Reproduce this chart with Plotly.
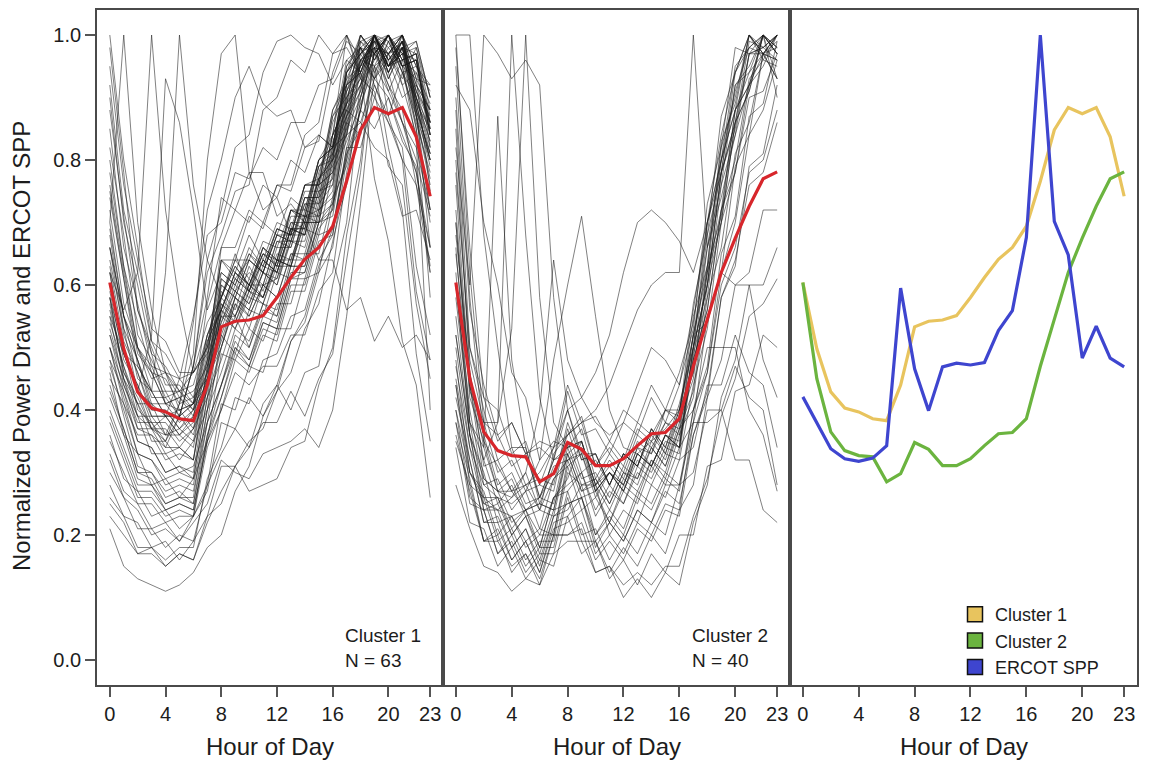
import plotly.graph_objects as go

hours = list(range(24))
x_tick_vals = [0, 4, 8, 12, 16, 20, 23]
y_tick_vals = [0.0, 0.2, 0.4, 0.6, 0.8, 1.0]
y_tick_text = ["0.0", "0.2", "0.4", "0.6", "0.8", "1.0"]

cluster1_mean = [0.604, 0.498, 0.429, 0.403, 0.397, 0.386, 0.383, 0.44, 0.533, 0.542, 0.544, 0.551,
                 0.580, 0.612, 0.641, 0.660, 0.694, 0.766, 0.848, 0.884, 0.874, 0.884, 0.837, 0.742]
cluster2_mean = [0.604, 0.45, 0.365, 0.335, 0.327, 0.325, 0.285, 0.298, 0.348, 0.337, 0.311, 0.311,
                 0.322, 0.343, 0.362, 0.364, 0.386, 0.47, 0.545, 0.62, 0.675, 0.726, 0.77, 0.781]
ercot_spp = [0.421, 0.38, 0.338, 0.322, 0.318, 0.323, 0.343, 0.595, 0.466, 0.399, 0.469, 0.475,
             0.472, 0.476, 0.527, 0.559, 0.676, 1.0, 0.702, 0.648, 0.483, 0.534, 0.483, 0.469]

cluster1_profiles = [
    [0.62,0.49,0.43,0.37,0.36,0.36,0.34,0.47,0.55,0.53,0.59,0.58,0.64,0.63,0.71,0.72,0.81,0.86,0.97,1.00,0.95,0.99,0.91,0.84],
    [0.75,0.61,0.47,0.43,0.39,0.39,0.36,0.45,0.50,0.57,0.53,0.60,0.61,0.67,0.66,0.74,0.77,0.91,0.98,0.93,0.99,0.94,0.86,0.78],
    [0.55,0.44,0.39,0.33,0.33,0.30,0.31,0.38,0.52,0.49,0.56,0.55,0.62,0.61,0.69,0.68,0.78,0.83,0.89,0.95,0.91,0.96,0.97,0.85],
    [0.90,0.70,0.60,0.49,0.47,0.43,0.44,0.52,0.58,0.65,0.59,0.66,0.63,0.72,0.70,0.79,0.80,0.94,1.00,0.96,1.00,0.92,0.84,0.70],
    [0.48,0.39,0.31,0.30,0.26,0.27,0.25,0.38,0.44,0.50,0.47,0.54,0.53,0.61,0.62,0.70,0.72,0.86,0.84,0.92,0.87,0.94,0.90,0.81],
    [0.68,0.53,0.48,0.40,0.40,0.37,0.39,0.45,0.59,0.56,0.63,0.59,0.66,0.66,0.74,0.73,0.82,0.84,0.94,0.90,0.97,0.93,0.98,0.90],
    [0.82,0.68,0.52,0.48,0.43,0.43,0.40,0.50,0.56,0.62,0.60,0.66,0.64,0.71,0.71,0.80,0.82,0.95,0.99,1.00,0.94,1.00,0.91,0.86],
    [0.58,0.46,0.41,0.35,0.35,0.32,0.35,0.40,0.56,0.53,0.58,0.57,0.63,0.63,0.72,0.71,0.79,0.84,0.99,0.96,1.00,0.97,0.98,0.88],
    [0.44,0.37,0.30,0.29,0.25,0.26,0.25,0.36,0.42,0.49,0.47,0.53,0.52,0.60,0.60,0.68,0.69,0.82,0.82,0.90,0.86,0.80,0.76,0.66],
    [0.95,0.76,0.64,0.53,0.51,0.46,0.46,0.50,0.64,0.62,0.68,0.64,0.70,0.69,0.76,0.76,0.87,0.92,1.00,0.97,1.00,0.95,0.93,0.75],
    [0.52,0.43,0.35,0.34,0.30,0.31,0.29,0.42,0.48,0.55,0.50,0.57,0.56,0.64,0.64,0.71,0.73,0.85,0.90,0.99,0.97,1.00,0.95,0.91],
    [0.70,0.55,0.48,0.42,0.42,0.39,0.41,0.44,0.55,0.55,0.61,0.58,0.64,0.64,0.71,0.70,0.81,0.87,0.96,0.99,0.93,0.98,0.87,0.72],
    [0.60,0.50,0.40,0.38,0.34,0.34,0.32,0.45,0.51,0.58,0.55,0.60,0.58,0.65,0.65,0.73,0.76,0.89,0.93,1.00,0.98,0.95,0.96,0.84],
    [0.85,0.66,0.57,0.47,0.46,0.42,0.43,0.47,0.61,0.59,0.65,0.63,0.69,0.68,0.76,0.77,0.88,0.93,0.98,0.94,0.99,1.00,0.89,0.80],
    [0.50,0.41,0.33,0.32,0.28,0.29,0.28,0.40,0.46,0.53,0.51,0.57,0.55,0.63,0.63,0.70,0.71,0.84,0.86,0.93,0.97,0.92,0.94,0.89],
    [0.66,0.52,0.46,0.39,0.39,0.36,0.38,0.43,0.58,0.55,0.60,0.60,0.67,0.67,0.73,0.72,0.83,0.88,0.95,1.00,0.96,0.99,0.88,0.81],
    [0.78,0.63,0.50,0.46,0.41,0.42,0.39,0.49,0.55,0.61,0.59,0.64,0.62,0.69,0.68,0.77,0.81,0.94,0.97,0.99,1.00,0.96,0.97,0.86],
    [0.46,0.36,0.33,0.28,0.29,0.26,0.29,0.35,0.49,0.48,0.53,0.51,0.57,0.57,0.65,0.65,0.74,0.79,0.88,0.85,0.90,0.83,0.79,0.62],
    [0.64,0.53,0.43,0.41,0.36,0.37,0.35,0.46,0.53,0.59,0.57,0.62,0.61,0.69,0.68,0.75,0.76,0.89,0.92,1.00,0.95,0.98,0.97,0.87],
    [0.88,0.71,0.56,0.50,0.44,0.44,0.41,0.52,0.58,0.63,0.60,0.66,0.64,0.72,0.71,0.79,0.81,0.93,0.95,1.00,0.99,0.94,0.87,0.77],
    [0.56,0.47,0.39,0.37,0.33,0.34,0.32,0.47,0.58,0.64,0.64,0.70,0.68,0.74,0.72,0.80,0.82,0.94,0.98,0.92,0.86,0.82,0.63,0.52],
    [0.72,0.57,0.50,0.43,0.43,0.39,0.41,0.48,0.66,0.66,0.72,0.70,0.76,0.75,0.82,0.83,0.94,1.00,0.93,0.91,0.79,0.76,0.57,0.45],
    [0.40,0.34,0.28,0.28,0.25,0.26,0.26,0.40,0.50,0.58,0.56,0.62,0.60,0.68,0.68,0.78,0.84,1.00,0.96,0.95,0.82,0.72,0.49,0.35],
    [0.62,0.49,0.44,0.39,0.39,0.36,0.39,0.48,0.64,0.64,0.71,0.69,0.76,0.76,0.84,0.86,0.97,0.98,0.94,0.77,0.67,0.51,0.44,0.26],
    [0.50,0.42,0.35,0.34,0.30,0.31,0.30,0.44,0.54,0.60,0.58,0.64,0.62,0.69,0.69,0.77,0.80,0.92,0.94,1.00,0.87,0.80,0.59,0.48],
    [0.58,0.45,0.41,0.37,0.39,0.39,0.47,0.58,0.74,0.72,0.78,0.72,0.74,0.68,0.70,0.64,0.64,0.56,0.58,0.51,0.55,0.50,0.52,0.48],
    [0.66,0.55,0.45,0.43,0.39,0.40,0.41,0.57,0.66,0.72,0.70,0.76,0.74,0.80,0.78,0.84,0.82,0.88,0.86,0.82,0.80,0.71,0.72,0.64],
    [0.21,0.15,0.13,0.12,0.11,0.12,0.14,0.18,0.20,0.27,0.31,0.39,0.43,0.51,0.55,0.63,0.69,0.81,0.88,0.97,0.95,0.98,0.85,0.72],
    [0.23,0.20,0.17,0.17,0.15,0.17,0.16,0.23,0.25,0.31,0.34,0.41,0.44,0.51,0.54,0.62,0.66,0.80,0.88,1.00,0.96,0.99,0.89,0.80],
    [0.28,0.23,0.22,0.18,0.19,0.16,0.19,0.23,0.31,0.31,0.35,0.37,0.43,0.46,0.53,0.57,0.67,0.76,0.92,0.96,1.00,0.97,0.96,0.84],
    [0.26,0.23,0.18,0.18,0.15,0.17,0.16,0.22,0.27,0.31,0.27,0.28,0.29,0.34,0.35,0.44,0.50,0.68,0.80,0.98,0.97,1.00,0.87,0.76],
    [0.33,0.27,0.25,0.21,0.22,0.19,0.22,0.25,0.32,0.30,0.29,0.33,0.34,0.35,0.37,0.34,0.40,0.55,0.73,0.94,0.98,1.00,0.90,0.85],
    [0.30,0.26,0.21,0.21,0.18,0.20,0.19,0.28,0.33,0.37,0.34,0.38,0.38,0.43,0.39,0.45,0.49,0.64,0.78,0.98,0.97,1.00,0.93,0.88],
    [0.36,0.29,0.27,0.23,0.24,0.21,0.23,0.27,0.38,0.37,0.42,0.39,0.44,0.40,0.46,0.47,0.60,0.70,0.90,0.97,1.00,0.94,0.95,0.86],
    [0.38,0.32,0.26,0.26,0.23,0.24,0.23,0.34,0.40,0.46,0.44,0.47,0.47,0.52,0.52,0.59,0.62,0.78,0.88,1.00,0.95,0.97,0.99,0.90],
    [0.25,0.22,0.17,0.18,0.16,0.18,0.18,0.29,0.34,0.42,0.41,0.48,0.49,0.55,0.56,0.64,0.68,0.82,0.90,0.97,0.92,0.86,0.78,0.63],
    [0.32,0.26,0.24,0.20,0.21,0.19,0.23,0.28,0.41,0.40,0.47,0.46,0.53,0.53,0.61,0.62,0.73,0.80,0.96,0.98,1.00,0.96,0.97,0.82],
    [1.00,0.80,0.66,0.51,0.46,0.40,0.41,0.46,0.60,0.58,0.64,0.62,0.68,0.67,0.74,0.74,0.84,0.89,1.00,0.97,1.00,0.95,0.96,0.85],
    [0.98,0.78,0.56,0.49,0.41,0.40,0.37,0.48,0.54,0.59,0.57,0.63,0.62,0.69,0.69,0.76,0.78,0.91,0.95,1.00,0.94,0.99,0.89,0.80],
    [0.70,1.00,0.70,0.56,0.46,0.45,0.42,0.52,0.56,0.62,0.60,0.65,0.63,0.70,0.70,0.79,0.82,0.95,0.98,1.00,0.93,0.98,0.90,0.83],
    [0.62,0.56,0.62,1.00,0.72,0.57,0.46,0.54,0.58,0.64,0.61,0.67,0.66,0.72,0.71,0.80,0.82,0.94,0.97,1.00,0.95,0.97,0.88,0.79],
    [0.55,0.49,0.43,0.52,0.93,0.86,0.72,0.56,0.62,0.60,0.65,0.62,0.68,0.67,0.74,0.74,0.84,0.89,1.00,0.97,1.00,0.95,0.96,0.84],
    [0.58,0.49,0.47,0.43,0.62,1.00,0.76,0.64,0.58,0.63,0.60,0.65,0.64,0.72,0.72,0.80,0.84,0.96,0.98,0.95,1.00,0.96,0.94,0.86],
    [0.52,0.45,0.39,0.39,0.36,0.41,0.49,0.80,0.97,1.00,0.78,0.78,0.71,0.73,0.70,0.77,0.79,0.92,0.95,1.00,0.95,0.96,0.87,0.80],
    [0.48,0.43,0.37,0.37,0.35,0.41,0.54,0.72,0.80,0.90,0.95,0.89,0.87,0.88,0.82,0.84,0.82,0.92,0.94,1.00,0.94,0.98,0.90,0.82],
    [0.45,0.41,0.36,0.36,0.34,0.39,0.47,0.64,0.72,0.82,0.84,0.94,0.99,1.00,0.98,0.97,0.92,0.96,0.94,1.00,0.96,0.99,0.92,0.88],
    [0.54,0.47,0.41,0.41,0.39,0.45,0.55,0.68,0.70,0.78,0.77,0.82,0.80,0.86,0.86,0.92,0.93,0.99,0.97,1.00,0.97,0.98,0.91,0.87],
    [0.50,0.44,0.38,0.38,0.35,0.39,0.47,0.62,0.68,0.75,0.76,0.88,0.90,0.96,0.94,1.00,0.97,1.00,0.94,0.98,0.95,0.97,0.89,0.85],
    [0.66,0.55,0.50,0.45,0.46,0.43,0.46,0.50,0.64,0.61,0.64,0.62,0.69,0.68,0.76,0.76,0.88,0.92,0.97,0.93,0.96,0.90,0.92,0.86],
    [0.42,0.36,0.29,0.28,0.24,0.25,0.24,0.35,0.40,0.48,0.46,0.52,0.51,0.59,0.59,0.67,0.68,0.81,0.85,0.95,0.97,1.00,0.95,0.92],
    [0.74,0.61,0.49,0.46,0.41,0.42,0.40,0.51,0.56,0.61,0.59,0.64,0.62,0.69,0.68,0.76,0.78,0.90,0.93,1.00,0.95,0.99,0.92,0.88],
    [0.57,0.46,0.42,0.37,0.37,0.34,0.37,0.44,0.60,0.58,0.64,0.62,0.68,0.68,0.76,0.76,0.87,0.90,0.96,0.93,0.90,0.84,0.78,0.66],
    [0.47,0.40,0.33,0.32,0.29,0.30,0.29,0.42,0.50,0.57,0.55,0.60,0.58,0.65,0.64,0.72,0.74,0.87,0.91,0.99,0.97,0.99,0.90,0.83],
    [0.80,0.63,0.54,0.46,0.45,0.41,0.42,0.45,0.57,0.55,0.60,0.58,0.64,0.63,0.70,0.70,0.80,0.85,0.98,0.97,1.00,0.95,0.96,0.84],
    [0.35,0.30,0.25,0.25,0.22,0.23,0.23,0.36,0.44,0.52,0.50,0.56,0.55,0.63,0.63,0.72,0.75,0.88,0.92,1.00,0.94,0.98,0.88,0.81],
    [0.63,0.51,0.46,0.40,0.40,0.37,0.40,0.46,0.61,0.59,0.62,0.60,0.67,0.66,0.73,0.73,0.84,0.89,0.95,0.97,0.94,0.86,0.80,0.71],
    [0.53,0.45,0.37,0.36,0.32,0.33,0.32,0.44,0.52,0.58,0.56,0.62,0.60,0.67,0.67,0.75,0.77,0.90,0.94,1.00,0.95,0.99,0.88,0.66],
    [0.92,0.72,0.62,0.51,0.49,0.45,0.46,0.49,0.62,0.60,0.66,0.63,0.69,0.68,0.75,0.75,0.86,0.91,0.96,0.98,0.91,0.86,0.82,0.72],
    [0.43,0.37,0.30,0.30,0.27,0.28,0.27,0.38,0.44,0.51,0.48,0.54,0.53,0.61,0.61,0.69,0.72,0.86,0.91,1.00,0.96,0.98,0.99,0.90],
    [0.69,0.55,0.48,0.41,0.41,0.38,0.40,0.44,0.57,0.54,0.60,0.58,0.65,0.64,0.71,0.71,0.82,0.87,0.99,0.97,1.00,0.95,0.85,0.58],
    [0.39,0.33,0.27,0.27,0.24,0.25,0.24,0.35,0.42,0.50,0.48,0.55,0.54,0.62,0.62,0.70,0.73,0.87,0.92,0.98,0.92,0.88,0.76,0.62],
    [0.59,0.48,0.44,0.38,0.38,0.35,0.37,0.42,0.56,0.54,0.59,0.57,0.64,0.63,0.70,0.70,0.80,0.84,0.96,0.97,1.00,0.95,0.83,0.40],
    [0.76,0.62,0.50,0.47,0.42,0.43,0.41,0.51,0.56,0.62,0.59,0.65,0.63,0.70,0.69,0.77,0.80,0.94,0.97,0.99,0.95,1.00,0.93,0.92],
]

cluster2_profiles = [
    [0.95,0.58,0.35,0.31,0.27,0.28,0.24,0.29,0.31,0.33,0.27,0.30,0.28,0.33,0.31,0.36,0.35,0.50,0.60,0.78,0.86,0.97,0.98,1.00],
    [0.85,0.46,0.34,0.27,0.27,0.24,0.25,0.24,0.33,0.27,0.29,0.25,0.30,0.29,0.34,0.31,0.37,0.43,0.60,0.70,0.86,0.91,1.00,0.97],
    [0.72,0.44,0.29,0.27,0.22,0.24,0.20,0.26,0.27,0.30,0.23,0.27,0.25,0.30,0.28,0.33,0.32,0.44,0.53,0.70,0.78,0.92,0.95,1.00],
    [1.00,0.62,0.38,0.36,0.31,0.33,0.26,0.32,0.34,0.37,0.29,0.33,0.30,0.36,0.34,0.38,0.37,0.52,0.62,0.80,0.88,1.00,0.96,0.95],
    [0.62,0.36,0.30,0.22,0.23,0.19,0.21,0.20,0.31,0.24,0.26,0.22,0.27,0.25,0.31,0.28,0.34,0.38,0.55,0.62,0.79,0.84,0.97,0.96],
    [0.55,0.36,0.24,0.24,0.18,0.21,0.16,0.23,0.24,0.28,0.20,0.24,0.21,0.27,0.25,0.30,0.28,0.40,0.47,0.65,0.71,0.87,0.89,0.99],
    [0.90,0.56,0.44,0.36,0.38,0.33,0.34,0.32,0.43,0.36,0.37,0.33,0.38,0.36,0.42,0.38,0.44,0.53,0.73,0.82,0.98,0.97,1.00,0.90],
    [0.45,0.32,0.22,0.22,0.16,0.19,0.14,0.22,0.23,0.26,0.18,0.22,0.19,0.24,0.22,0.27,0.25,0.36,0.42,0.58,0.63,0.79,0.81,0.92],
    [0.80,0.48,0.38,0.30,0.32,0.27,0.28,0.27,0.37,0.30,0.32,0.28,0.33,0.31,0.37,0.34,0.40,0.46,0.63,0.71,0.88,0.92,1.00,0.98],
    [0.68,0.46,0.31,0.32,0.27,0.30,0.24,0.33,0.36,0.39,0.31,0.34,0.31,0.37,0.35,0.40,0.38,0.55,0.63,0.83,0.89,1.00,0.97,0.96],
    [0.40,0.26,0.24,0.17,0.19,0.14,0.17,0.17,0.26,0.19,0.19,0.13,0.16,0.12,0.17,0.14,0.20,0.20,0.31,0.32,0.43,0.44,0.52,0.50],
    [0.35,0.28,0.19,0.20,0.14,0.17,0.12,0.20,0.20,0.21,0.14,0.15,0.10,0.13,0.10,0.14,0.12,0.22,0.28,0.42,0.48,0.60,0.60,0.66],
    [0.28,0.21,0.15,0.14,0.11,0.13,0.12,0.17,0.19,0.19,0.14,0.15,0.12,0.14,0.12,0.15,0.15,0.23,0.29,0.39,0.45,0.55,0.57,0.61],
    [0.38,0.25,0.24,0.17,0.20,0.15,0.18,0.18,0.27,0.20,0.21,0.16,0.20,0.17,0.22,0.20,0.28,0.30,0.40,0.40,0.47,0.42,0.40,0.28],
    [0.42,0.32,0.22,0.23,0.18,0.21,0.15,0.23,0.25,0.26,0.19,0.22,0.19,0.24,0.22,0.28,0.28,0.38,0.38,0.40,0.32,0.32,0.24,0.22],
    [0.48,0.30,0.27,0.20,0.23,0.18,0.20,0.20,0.32,0.26,0.27,0.22,0.28,0.26,0.32,0.30,0.37,0.40,0.50,0.50,0.50,0.40,0.36,0.27],
    [1.00,1.00,0.68,0.50,0.34,0.34,0.26,0.32,0.33,0.35,0.28,0.32,0.29,0.35,0.33,0.38,0.36,0.52,0.63,0.82,0.90,1.00,0.98,0.96],
    [0.82,0.60,1.00,0.97,0.93,0.96,0.92,0.58,0.40,0.32,0.33,0.28,0.33,0.31,0.37,0.34,0.41,0.50,0.68,0.78,0.94,0.98,1.00,0.93],
    [0.70,0.43,0.38,0.38,1.00,0.68,0.42,0.32,0.40,0.33,0.33,0.28,0.33,0.31,0.36,0.33,0.39,0.46,0.62,0.70,0.86,0.91,1.00,0.98],
    [0.65,0.44,0.32,0.38,0.53,1.00,0.58,0.38,0.34,0.35,0.28,0.31,0.28,0.34,0.31,0.36,0.34,0.48,0.56,0.72,0.80,0.93,0.96,1.00],
    [0.60,0.38,0.34,0.87,0.48,0.34,0.25,0.31,0.32,0.33,0.26,0.30,0.27,0.33,0.31,0.36,0.34,0.49,0.58,0.76,0.84,0.97,0.98,1.00],
    [0.92,0.88,0.70,0.60,0.46,0.42,0.32,0.35,0.34,0.35,0.27,0.30,0.27,0.33,0.31,0.36,0.34,0.50,0.60,0.78,0.86,0.99,0.98,1.00],
    [0.50,0.34,0.28,0.26,0.25,0.27,0.32,0.48,0.60,0.71,0.55,0.40,0.34,0.33,0.35,0.37,0.40,0.52,0.66,0.80,0.91,0.98,1.00,0.97],
    [0.44,0.30,0.25,0.24,0.26,0.30,0.40,0.64,0.48,0.42,0.38,0.36,0.38,0.44,0.50,0.48,0.44,0.56,0.70,0.84,0.94,1.00,0.97,0.93],
    [0.52,0.36,0.29,0.27,0.26,0.28,0.30,0.34,0.40,0.42,0.46,0.52,0.62,0.70,0.72,0.70,0.67,0.62,0.70,0.80,0.88,0.94,0.97,1.00],
    [0.40,0.30,0.26,0.24,0.23,0.24,0.26,0.30,0.36,0.38,0.40,0.44,0.50,0.56,0.60,0.62,0.62,1.00,0.66,0.74,0.84,0.92,0.97,1.00],
    [0.58,0.38,0.26,0.26,0.21,0.24,0.18,0.26,0.28,0.30,0.24,0.28,0.25,0.31,0.29,0.34,0.33,0.48,0.56,0.72,0.78,0.90,0.91,0.97],
    [0.76,0.44,0.36,0.28,0.30,0.25,0.26,0.25,0.35,0.29,0.30,0.26,0.31,0.29,0.35,0.32,0.39,0.48,0.66,0.76,0.92,0.95,1.00,0.97],
    [0.36,0.27,0.19,0.19,0.15,0.17,0.13,0.20,0.20,0.22,0.16,0.19,0.16,0.21,0.19,0.24,0.23,0.36,0.43,0.58,0.64,0.76,0.78,0.86],
    [0.88,0.50,0.40,0.32,0.34,0.28,0.29,0.28,0.38,0.32,0.33,0.28,0.33,0.31,0.37,0.33,0.40,0.50,0.70,0.80,0.95,0.98,0.97,0.99],
    [0.47,0.34,0.24,0.25,0.20,0.23,0.17,0.24,0.25,0.26,0.20,0.23,0.20,0.26,0.24,0.29,0.27,0.40,0.46,0.60,0.66,0.78,0.80,0.88],
    [0.66,0.38,0.32,0.25,0.28,0.23,0.24,0.23,0.33,0.27,0.28,0.24,0.29,0.27,0.32,0.29,0.36,0.42,0.58,0.66,0.81,0.86,0.97,0.98],
    [0.34,0.22,0.21,0.15,0.18,0.13,0.16,0.15,0.23,0.17,0.19,0.14,0.18,0.15,0.20,0.17,0.24,0.28,0.42,0.48,0.60,0.62,0.72,0.72],
    [0.98,0.66,0.42,0.40,0.33,0.35,0.28,0.34,0.36,0.38,0.31,0.35,0.32,0.38,0.36,0.40,0.39,0.57,0.68,0.87,0.94,1.00,0.97,0.93],
    [0.52,0.36,0.25,0.26,0.20,0.23,0.18,0.26,0.29,0.35,0.28,0.30,0.28,0.34,0.33,0.40,0.40,0.52,0.54,0.62,0.60,0.60,0.48,0.42],
    [0.44,0.28,0.26,0.19,0.21,0.16,0.19,0.19,0.30,0.28,0.28,0.20,0.24,0.22,0.28,0.26,0.32,0.34,0.44,0.44,0.52,0.46,0.44,0.34],
    [0.60,0.40,0.28,0.29,0.24,0.27,0.21,0.29,0.32,0.34,0.27,0.30,0.27,0.32,0.30,0.35,0.34,0.50,0.60,0.78,0.85,0.97,0.97,1.00],
    [0.78,0.50,0.42,0.35,0.38,0.33,0.35,0.34,0.44,0.38,0.39,0.35,0.40,0.38,0.44,0.40,0.46,0.54,0.70,0.78,0.92,0.94,1.00,0.97],
    [0.38,0.29,0.19,0.21,0.16,0.19,0.14,0.21,0.22,0.24,0.17,0.20,0.17,0.22,0.20,0.25,0.24,0.38,0.46,0.62,0.70,0.84,0.88,0.96],
    [0.70,0.42,0.35,0.27,0.29,0.24,0.25,0.24,0.34,0.28,0.29,0.25,0.30,0.28,0.34,0.31,0.38,0.45,0.62,0.72,0.88,0.92,1.00,0.98],
]

legend_names = ["Cluster 1", "Cluster 2", "ERCOT SPP"]
summary_series = [cluster1_mean, cluster2_mean, ercot_spp]
summary_colors = ["#E8C45E", "#6BB43F", "#3E45CF"]

FONT = "Liberation Sans, Arial, sans-serif"
TXT = "#1c1c1c"
W, H = 1149, 763

fig = go.Figure()

spag = dict(color="rgba(25,25,25,0.55)", width=1)
for prof in cluster1_profiles:
    fig.add_trace(go.Scatter(x=hours, y=prof, mode="lines", line=spag, xaxis="x", yaxis="y",
                             showlegend=False, hoverinfo="skip"))
fig.add_trace(go.Scatter(x=hours, y=cluster1_mean, mode="lines", line=dict(color="#D7262B", width=3.2),
                         xaxis="x", yaxis="y", showlegend=False))
for prof in cluster2_profiles:
    fig.add_trace(go.Scatter(x=hours, y=prof, mode="lines", line=spag, xaxis="x2", yaxis="y2",
                             showlegend=False, hoverinfo="skip"))
fig.add_trace(go.Scatter(x=hours, y=cluster2_mean, mode="lines", line=dict(color="#D7262B", width=3.2),
                         xaxis="x2", yaxis="y2", showlegend=False))

for name, ser, col in zip(legend_names, summary_series, summary_colors):
    fig.add_trace(go.Scatter(x=hours, y=ser, mode="lines", line=dict(color=col, width=3.2),
                             xaxis="x3", yaxis="y3", showlegend=False))
for name, col in zip(legend_names, summary_colors):
    fig.add_trace(go.Scatter(x=[None], y=[None], mode="markers", name=name, xaxis="x3", yaxis="y3",
                             marker=dict(symbol="square", size=15, color=col,
                                         line=dict(color="#111", width=1.5))))

x_left = [97, 443, 790]
x_right = [443, 790, 1137]
y_top, y_bot = 10, 685

axis_common = dict(range=[-0.92, 23.92], tickmode="array", tickvals=x_tick_vals,
                   ticks="outside", ticklen=10, tickwidth=1.5, tickcolor="#555",
                   showline=True, linecolor="#4a4a4a", linewidth=1.8, mirror=True,
                   showgrid=False, zeroline=False,
                   tickfont=dict(family=FONT, size=20, color=TXT))
yaxis_common = dict(range=[-0.04, 1.04], domain=[(H - y_bot) / H, (H - y_top) / H],
                    showline=True, linecolor="#4a4a4a", linewidth=1.8, mirror=True,
                    showgrid=False, zeroline=False)

layout = dict(
    width=W, height=H, margin=dict(l=0, r=0, t=0, b=0),
    paper_bgcolor="white", plot_bgcolor="white",
    showlegend=True,
    legend=dict(x=955 / W, y=(H - 596) / H, xanchor="left", yanchor="top",
                font=dict(family=FONT, size=18, color=TXT), bgcolor="rgba(0,0,0,0)",
                itemwidth=30, tracegroupgap=0),
)
for i in range(3):
    sfx = "" if i == 0 else str(i + 1)
    ax = dict(axis_common)
    ax["domain"] = [x_left[i] / W, x_right[i] / W]
    ax["anchor"] = "y" + sfx
    layout["xaxis" + sfx] = ax
    ay = dict(yaxis_common)
    ay["anchor"] = "x" + sfx
    if i == 0:
        ay.update(tickmode="array", tickvals=y_tick_vals, ticktext=y_tick_text, ticks="outside",
                  ticklen=10, tickwidth=1.5, tickcolor="#555",
                  tickfont=dict(family=FONT, size=20, color=TXT))
    else:
        ay.update(showticklabels=False, ticks="")
    layout["yaxis" + sfx] = ay

fig.update_layout(**layout)

ann = []
for i in range(3):
    sfx = "" if i == 0 else str(i + 1)
    ann.append(dict(text="Hour of Day", xref="x" + sfx + " domain", x=0.5, yref="paper",
                    y=(H - 746) / H, showarrow=False, xanchor="center", yanchor="middle",
                    font=dict(family=FONT, size=24, color=TXT)))
ann.append(dict(text="Normalized Power Draw and ERCOT SPP", xref="paper", x=21 / W, yref="paper",
                y=(H - 346) / H, textangle=-90, showarrow=False, xanchor="center", yanchor="middle",
                font=dict(family=FONT, size=24, color=TXT)))
for sfx, lab, n in [("", "Cluster 1", "N = 63"), ("2", "Cluster 2", "N = 40")]:
    ann.append(dict(text=lab, xref="x" + sfx, x=16.75, yref="y" + sfx, y=0.039, showarrow=False,
                    xanchor="left", yanchor="middle", font=dict(family=FONT, size=19, color=TXT)))
    ann.append(dict(text=n, xref="x" + sfx, x=16.75, yref="y" + sfx, y=0.0, showarrow=False,
                    xanchor="left", yanchor="middle", font=dict(family=FONT, size=19, color=TXT)))
fig.update_layout(annotations=ann)

fig.write_html("out.html")
